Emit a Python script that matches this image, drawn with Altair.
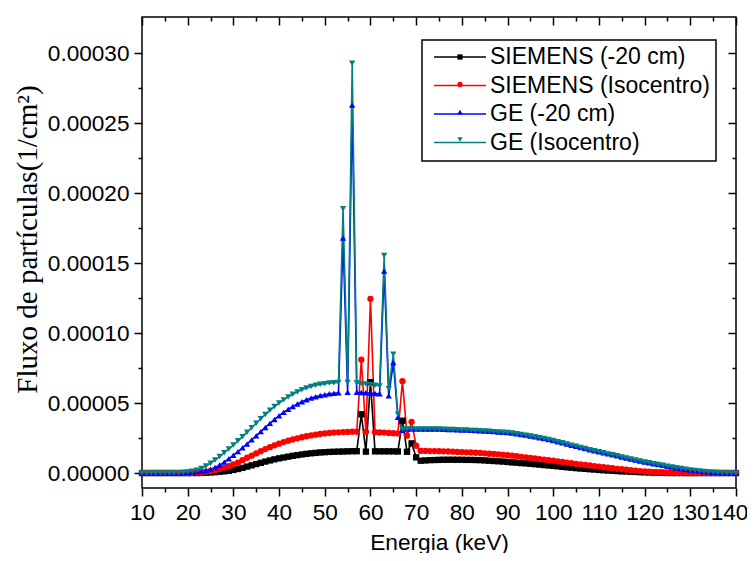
import altair as alt
import pandas as pd

# Energia (keV): one value per keV from 10 to 140
energia = list(range(10, 141))

# Values in units of 1e-6 (1/cm^2)
siemens_20 = [
    0, 0, 0, 0, 0, 0, 0, 0, 0, 0, 0, 0, 0,                      # 10-22
    0.1, 0.2, 0.4, 0.6, 0.9, 1.2, 1.6,                          # 23-29
    2.2, 2.9, 3.7, 4.6, 5.5, 6.4, 7.3, 8.2, 9.0, 9.8,           # 30-39
    10.5, 11.1, 11.7, 12.3, 12.8, 13.3, 13.7, 14.1, 14.4, 14.7, # 40-49
    14.9, 15.1, 15.2, 15.3, 15.4, 15.5, 15.6, 15.6, 42.0, 15.3, # 50-59
    65.0, 15.5, 15.5, 15.5, 15.5, 15.5, 15.4, 37.4, 15.2, 21.2, # 60-69
    11.2, 8.8, 9.0, 9.2, 9.3, 9.4, 9.5, 9.5, 9.5, 9.5,          # 70-79
    9.5, 9.4, 9.4, 9.3, 9.2, 9.0, 8.8, 8.6, 8.4, 8.2,           # 80-89
    7.9, 7.6, 7.4, 7.1, 6.9, 6.6, 6.3, 6.0, 5.7, 5.4,           # 90-99
    5.1, 4.8, 4.4, 4.1, 3.8, 3.5, 3.2, 3.0, 2.7, 2.5,           # 100-109
    2.2, 2.0, 1.8, 1.6, 1.4, 1.2, 1.1, 0.9, 0.8, 0.6,           # 110-119
    0.5, 0.4, 0.3, 0.2, 0.1, 0.05, 0, 0, 0, 0,                  # 120-129
    0, 0, 0, 0, 0, 0, 0, 0, 0, 0, 0,                            # 130-140
]

siemens_iso = [
    0, 0, 0, 0, 0, 0, 0, 0, 0, 0, 0,                            # 10-20
    0.1, 0.3, 0.6, 1.0, 1.5, 2.2, 3.0, 3.9, 4.9,                # 21-29
    6.1, 7.5, 9.2, 10.9, 12.4, 14.0, 15.6, 17.1, 18.5, 19.8,    # 30-39
    21.0, 22.1, 23.1, 24.0, 24.8, 25.6, 26.3, 26.9, 27.4, 27.9, # 40-49
    28.3, 28.6, 28.9, 29.1, 29.3, 29.4, 29.5, 29.5, 81.0, 29.4, # 50-59
    124.5, 29.2, 29.0, 28.9, 28.7, 28.5, 28.3, 65.7, 26.7, 36.6,# 60-69
    19.5, 15.8, 15.8, 15.7, 15.7, 15.6, 15.5, 15.4, 15.3, 15.1, # 70-79
    15.0, 14.8, 14.7, 14.5, 14.3, 14.1, 13.8, 13.6, 13.3, 13.0, # 80-89
    12.7, 12.4, 12.0, 11.6, 11.2, 10.8, 10.4, 10.0, 9.6, 9.2,   # 90-99
    8.8, 8.3, 7.9, 7.5, 7.0, 6.6, 6.2, 5.8, 5.4, 5.0,           # 100-109
    4.6, 4.2, 3.8, 3.4, 3.0, 2.7, 2.4, 2.0, 1.7, 1.4,           # 110-119
    1.1, 0.9, 0.7, 0.5, 0.4, 0.3, 0.2, 0.1, 0.05, 0,            # 120-129
    0, 0, 0, 0, 0, 0, 0, 0, 0, 0, 0,                            # 130-140
]

ge_20_baixa = [
    0, 0, 0, 0, 0, 0, 0, 0,                                     # 10-17
    0.1, 0.2,                                                   # 18-19
    0.4, 0.7, 1.1, 1.4, 1.8, 2.7, 3.9, 5.7, 7.8, 10.2,          # 20-29
    12.7, 15.3, 18.0, 20.8, 23.7, 26.6, 29.6, 32.6, 35.5, 38.3, # 30-39
    41.0, 43.4, 45.6, 47.6, 49.4, 51.0, 52.4, 53.6, 54.6, 55.4, # 40-49
    56.0, 56.6, 57.0, 57.4, 168.0, 57.8, 263.0, 57.8, 57.6, 57.4,  # 50-59
    57.2, 56.9, 56.6, 144.5, 55.3, 79.0, 39.8, 30.5,            # 60-67
]

ge_iso_baixa = [
    0, 0, 0, 0, 0, 0, 0,                                        # 10-16
    0.1, 0.2, 0.4,                                              # 17-19
    0.7, 1.2, 2.0, 3.3, 5.0, 7.0, 9.3, 11.8, 14.5, 17.2,        # 20-29
    20.0, 23.0, 26.0, 29.2, 32.4, 35.6, 38.8, 41.9, 44.8, 47.5, # 30-39
    50.0, 52.3, 54.4, 56.3, 58.0, 59.5, 60.8, 61.8, 62.7, 63.4, # 40-49
    63.9, 64.3, 64.6, 64.8, 189.0, 64.8, 293.0, 64.3, 64.0, 63.6,  # 50-59
    63.2, 62.8, 62.3, 155.5, 60.2, 85.0, 42.0, 31.4,            # 60-67
]

# 68-140 keV: both GE curves coincide
ge_alta = [
    31.4, 31.5, 31.5, 31.5, 31.5, 31.5, 31.4, 31.4, 31.3, 31.2, 31.1, 31.0,  # 68-79
    30.8, 30.7, 30.5, 30.4, 30.2, 30.0, 29.8, 29.6, 29.4, 29.1,  # 80-89
    28.9, 28.6, 28.1, 27.6, 27.1, 26.5, 25.9, 25.3, 24.7, 24.0,  # 90-99
    23.2, 22.4, 21.6, 20.8, 19.9, 19.1, 18.2, 17.5, 16.7, 16.0,  # 100-109
    15.2, 14.5, 13.7, 13.0, 12.3, 11.5, 10.8, 10.0, 9.3, 8.6,    # 110-119
    7.9, 7.3, 6.7, 6.1, 5.5, 4.9, 4.3, 3.7, 3.2, 2.7,            # 120-129
    2.2, 1.8, 1.4, 1.1, 0.8, 0.5, 0.3, 0.2, 0.1, 0, 0,           # 130-140
]

ge_20 = ge_20_baixa + ge_alta
ge_iso = ge_iso_baixa + ge_alta

nomes = ["SIEMENS (-20 cm)", "SIEMENS (Isocentro)", "GE (-20 cm)", "GE (Isocentro)"]
cores = ["#000000", "#ff0000", "#0000ff", "#008080"]
formas = ["square", "circle", "triangle-up", "triangle-down"]
series = [siemens_20, siemens_iso, ge_20, ge_iso]

x_major = list(range(10, 141, 10))
x_minor = list(range(15, 140, 10))
y_major = [0.0, 0.00005, 0.0001, 0.00015, 0.0002, 0.00025, 0.0003]
y_minor = [0.000025, 0.000075, 0.000125, 0.000175, 0.000225, 0.000275]

for s in series:
    assert len(s) == len(energia), len(s)

rows = []
for k, (nome, vals) in enumerate(zip(nomes, series)):
    for e, v in zip(energia, vals):
        rows.append({"energia": e, "fluxo": v * 1e-6, "serie": nome, "k": k})
df = pd.DataFrame(rows)

xs = alt.Scale(domain=[10, 140], nice=False, zero=False)
ys = alt.Scale(domain=[-0.0000107, 0.000326], nice=False, zero=False)

base = alt.Chart(df)

lines = base.mark_line(strokeWidth=1.6).encode(
    x=alt.X("energia:Q", scale=xs, axis=alt.Axis(
        orient="bottom", values=x_major, tickSize=8, labelPadding=5,
        labelFlush=False, labelOverlap=False,
        labelOffset={"condition": {"test": "datum.value >= 140", "value": -7}, "value": 0},
        title="Energia (keV)",
        titleFont="Liberation Sans", titleFontSize=22.7, titleX=297, titleY=61,
        titleBaseline="alphabetic", titleAlign="center")),
    y=alt.Y("fluxo:Q", scale=ys, axis=alt.Axis(
        orient="left", values=y_major, format=".5f", tickSize=8, labelPadding=5,
        labelFlush=False, labelOverlap=False, title="Fluxo de partículas(1/cm²)",
        titleFont="Liberation Serif", titleFontSize=29, titleX=-115, titleY=222,
        titleBaseline="middle", titleAlign="center")),
    color=alt.Color("serie:N", scale=alt.Scale(domain=nomes, range=cores),
                    legend=alt.Legend(
                        orient="none", legendX=280, legendY=23, title=None,
                        symbolType="stroke", symbolSize=2704, symbolStrokeWidth=1.5,
                        symbolOffset=5, labelFontSize=23, labelFont="Liberation Sans",
                        labelColor="black", labelOffset=3, labelLimit=400,
                        padding=6, clipHeight=22,
                        rowPadding=5.5, strokeColor="black", fillColor="white")),
)

sort_k = alt.EncodingSortField(field="k", op="min")
leg_pts = alt.Legend(orient="none", legendX=280, legendY=23, title=None,
                     symbolSize=28, symbolStrokeWidth=0, symbolOffset=21,
                     labelFontSize=22, labelExpr="''", padding=6, clipHeight=22,
                     rowPadding=5.5)

points = base.mark_point(filled=True, size=40, opacity=1).encode(
    x=alt.X("energia:Q", scale=xs, axis=alt.Axis(
        orient="bottom", values=x_minor, tickSize=4, labels=False, title=None)),
    y=alt.Y("fluxo:Q", scale=ys, axis=alt.Axis(
        orient="left", values=y_minor, tickSize=4, labels=False, title=None)),
    fill=alt.Fill("serie:N", sort=sort_k, scale=alt.Scale(range=cores), legend=leg_pts),
    shape=alt.Shape("serie:N", sort=sort_k, scale=alt.Scale(range=formas), legend=leg_pts),
)

top_right_major = base.mark_point(opacity=0).encode(
    x=alt.X("energia:Q", scale=xs, axis=alt.Axis(
        orient="top", offset=-8, values=x_major, tickSize=8, labels=False, title=None)),
    y=alt.Y("fluxo:Q", scale=ys, axis=alt.Axis(
        orient="right", offset=-8, values=y_major, tickSize=8, labels=False, title=None)),
)

top_right_minor = base.mark_point(opacity=0).encode(
    x=alt.X("energia:Q", scale=xs, axis=alt.Axis(
        orient="top", offset=-4, values=x_minor, tickSize=4, labels=False, title=None)),
    y=alt.Y("fluxo:Q", scale=ys, axis=alt.Axis(
        orient="right", offset=-4, values=y_minor, tickSize=4, labels=False, title=None)),
)

chart = alt.layer(lines, points, top_right_major, top_right_minor).resolve_axis(
    x="independent", y="independent"
).properties(
    width=594, height=471,
    autosize=alt.AutoSizeParams(type="none"),
    padding={"left": 134, "top": 9, "right": 11, "bottom": 65},
).configure_axis(
    grid=False, domain=False, tickColor="black", tickWidth=1.5,
    labelColor="black", labelFont="Liberation Sans", labelFontSize=22.6,
    titleColor="black", titleFontWeight="normal",
).configure_view(
    stroke="black", strokeWidth=1.5,
).configure_legend(
    strokeWidth=1.5,
)

chart.save("out.html", embed_options={"renderer": "svg", "actions": False})
